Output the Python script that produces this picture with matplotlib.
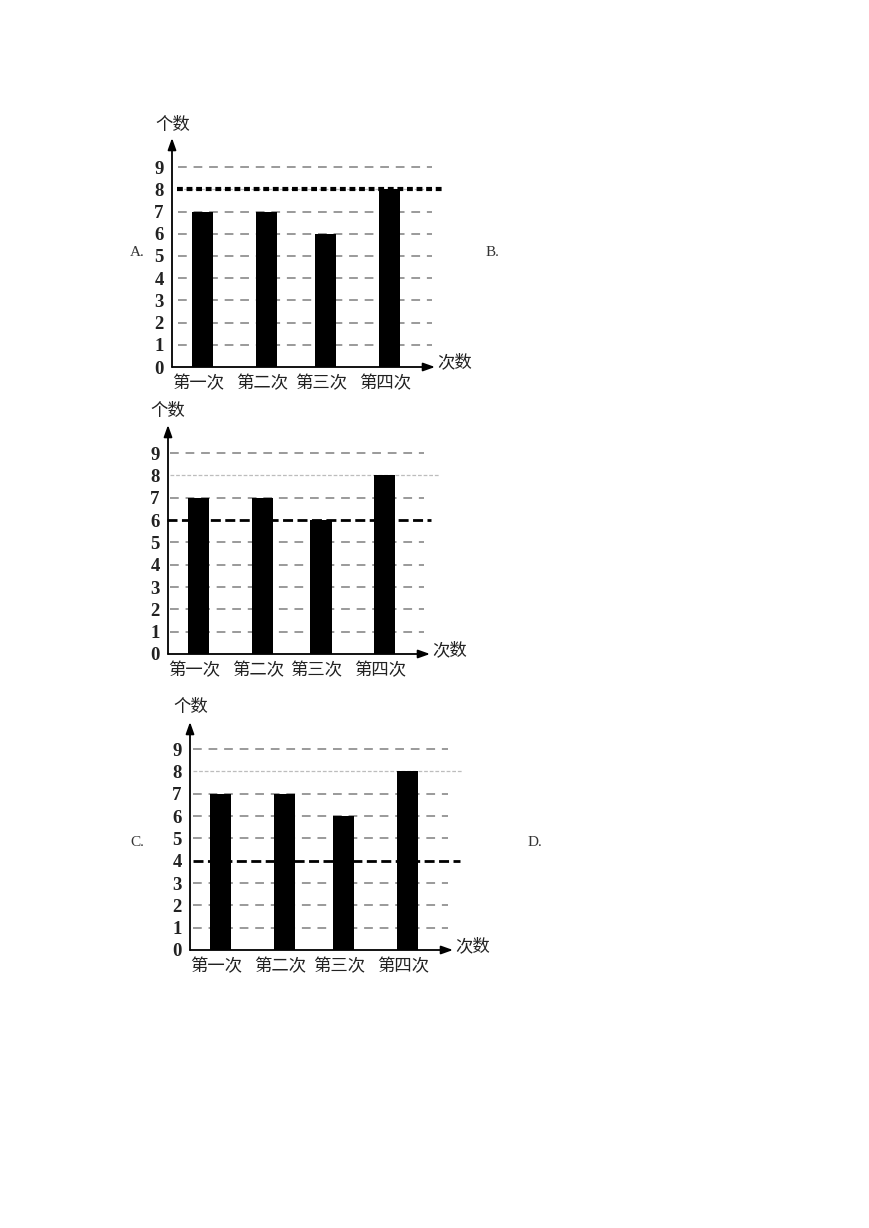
import matplotlib
matplotlib.use('Agg')
import matplotlib.pyplot as plt

plt.rcParams['font.family'] = ['Noto Sans CJK SC', 'DejaVu Sans']

# data
rounds = ['第一次', '第二次', '第三次', '第四次']
counts = [7, 7, 6, 8]
y_ticks = [0, 1, 2, 3, 4, 5, 6, 7, 8, 9]
option_lines = {'A': 8, 'B': 6, 'C': 4}   # the dark reference line in each option
y_label = '个数'
x_label = '次数'

W, H = 869, 1228
fig = plt.figure(figsize=(W / 100, H / 100), dpi=100)

# bar layout (in axis units, bar spacing ~64 px)
bar_pos = [0.48, 1.48, 2.40, 3.40]
bar_w = 0.33
lab_pos = [p - 0.07 for p in bar_pos]
x_end = 4.11


def draw_chart(box, mean, grid_span, grid8_end, mean_span, mean_style, ylab_xy, xlab_xy):
    x0, x1, y_zero, y_top, unit = box
    ax = fig.add_axes([x0 / W, 1 - y_zero / H, (x1 - x0) / W, (y_zero - y_top) / H])
    ax.set_xlim(0, x_end)
    ax.set_ylim(0, (y_zero - y_top) / unit)
    for s in ax.spines.values():
        s.set_visible(False)

    # gray dashed gridlines
    for v in y_ticks[1:]:
        if v == 8:
            ax.plot([grid_span[0], grid8_end], [v, v], color='#bdbdbd', lw=0.9,
                    dashes=(3, 1.5), clip_on=False, zorder=1)
        elif v != mean:
            ax.plot(grid_span, [v, v], color='#9a9a9a', lw=1.4, dashes=(4.5, 3.5),
                    clip_on=False, zorder=1)

    ax.bar(bar_pos, counts, width=bar_w, color='black', zorder=2)

    # dark reference line
    ax.plot(mean_span, [mean, mean], color='black', clip_on=False, zorder=3, **mean_style)

    # axes with arrows
    ax.annotate('', xy=(1, 0), xytext=(0, 0), xycoords='axes fraction',
                arrowprops=dict(arrowstyle='-|>,head_length=0.7,head_width=0.25',
                                color='black', lw=1.3, shrinkA=0, shrinkB=0))
    ax.annotate('', xy=(0, 1), xytext=(0, 0), xycoords='axes fraction',
                arrowprops=dict(arrowstyle='-|>,head_length=0.7,head_width=0.25',
                                color='black', lw=1.3, shrinkA=0, shrinkB=0))

    ax.set_yticks(y_ticks)
    ax.set_yticklabels([str(t) for t in y_ticks], family='Liberation Serif',
                       fontsize=13.5, fontweight='bold', color='#222222')
    ax.tick_params(axis='y', length=0, pad=6)
    ax.set_xticks(lab_pos)
    ax.set_xticklabels(rounds, fontsize=12.5, color='#222222')
    ax.tick_params(axis='x', length=0, pad=5)

    fig.text(ylab_xy[0] / W, 1 - ylab_xy[1] / H, y_label, fontsize=12.5,
             ha='center', va='center', color='#222222')
    fig.text(xlab_xy[0] / W, 1 - xlab_xy[1] / H, x_label, fontsize=12.5,
             ha='left', va='center', color='#222222')
    return ax


dotted = dict(lw=3.0, dashes=(1.4, 0.9))
dashed = dict(lw=2.0, dashes=(3.6, 1.6))

draw_chart((172, 435, 367, 138, 22.2), option_lines['A'], [0.09, 4.06], 4.06,
           [0.08, 4.27], dotted, (173, 125), (437, 362))
draw_chart((168, 430, 654, 425, 22.33), option_lines['B'], [0.03, 4.02], 4.25,
           [-0.02, 4.12], dashed, (168, 411), (432, 650))
draw_chart((190, 453, 950, 722, 22.33), option_lines['C'], [0.05, 4.03], 4.27,
           [0.05, 4.22], dashed, (191, 707), (455, 946))

for letter, (px, py) in {'A.': (137, 253), 'B.': (492, 253),
                         'C.': (137, 843), 'D.': (535, 843)}.items():
    fig.text(px / W, 1 - py / H, letter, family='Liberation Serif', fontsize=11,
             ha='center', va='center', color='#333333')

fig.savefig('out.png', dpi=100, facecolor='white')
